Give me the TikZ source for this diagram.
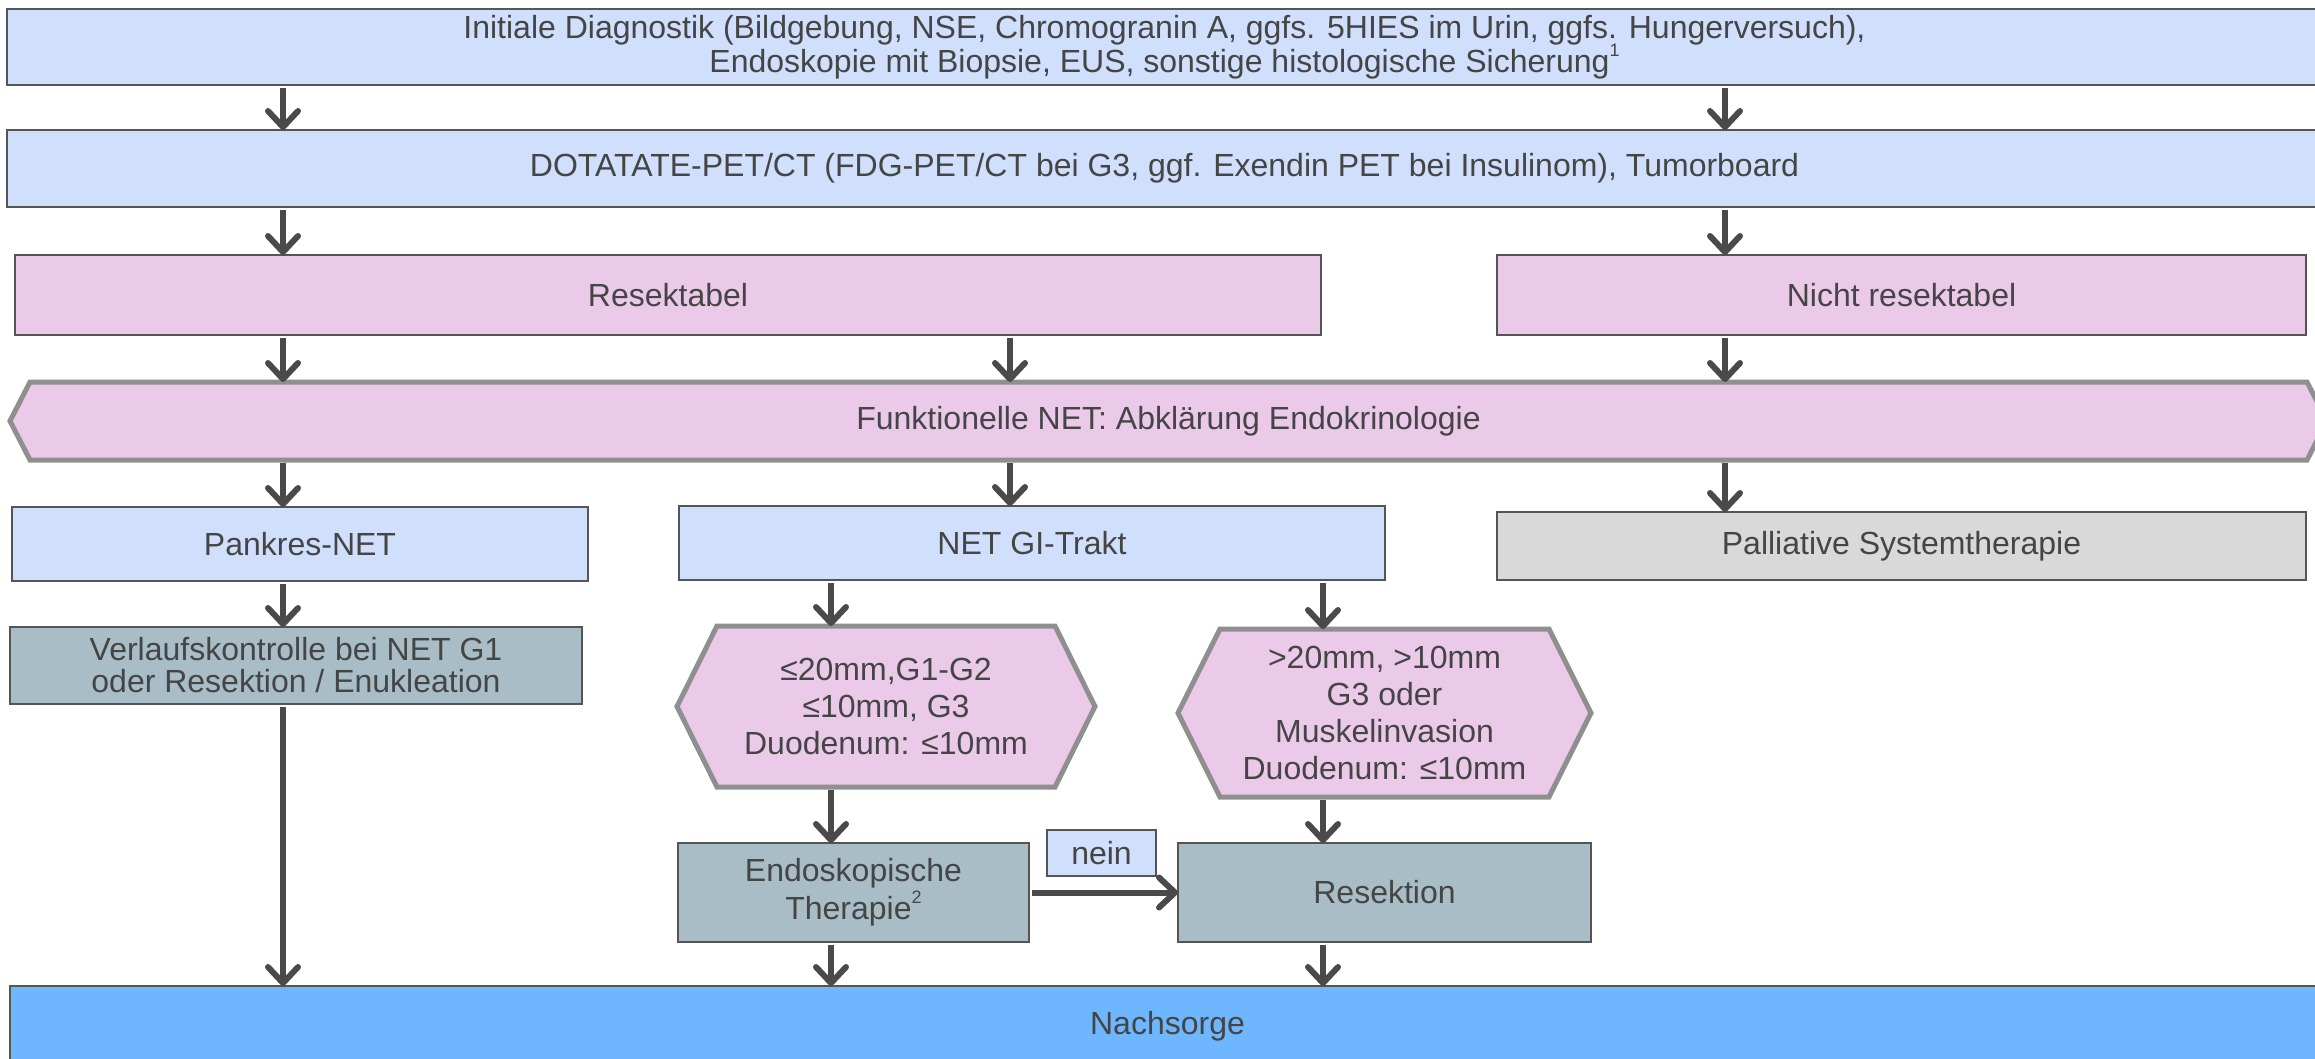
\documentclass[tikz,border=0pt]{standalone}
\usepackage{fontspec}
\setmainfont{Liberation Sans}
\usetikzlibrary{arrows.meta,backgrounds}
\definecolor{fillblue}{HTML}{CFDFFC}
\definecolor{fillpink}{HTML}{EACAE8}
\definecolor{fillteal}{HTML}{A9BDC6}
\definecolor{fillgrey}{HTML}{D9D9D9}
\definecolor{fillnach}{HTML}{6EB6FE}
\definecolor{edgedark}{HTML}{555555}
\definecolor{edgehex}{HTML}{8F8F8F}
\definecolor{txt}{HTML}{454545}
\definecolor{arrowc}{HTML}{4A4A4A}
\newcommand{\fnmark}[1]{\raisebox{0.5em}{\fontsize{18}{18}\selectfont #1}}
\begin{document}
\begin{tikzpicture}[x=1pt,y=-1pt,
  every node/.style={font=\fontsize{32}{37}\selectfont, text=txt, align=center, inner sep=0pt, outer sep=0pt},
  rbox/.style={rectangle, draw=edgedark, line width=2pt},
  hexnode/.style={rectangle},
  hexshape/.style={fill=fillpink, draw=edgehex, line width=5pt, line join=miter},
  flow/.style={draw=arrowc, line width=6pt, shorten <=3pt,
    -{Straight Barb[length=16pt,width=30pt,round]}},
]
\useasboundingbox (0,0) rectangle (2315,1058);

% column positions of the vertical connectors
\coordinate (c1) at (283,0);
\coordinate (c2) at (1010,0);
\coordinate (c3) at (1725,0);
\coordinate (c4) at (831,0);
\coordinate (c5) at (1323,0);

% rows of boxes
\node[rbox, fill=fillblue, minimum width=2315, minimum height=76] (init) at (1164.5,47)
  {Initiale Diagnostik (Bildgebung, NSE, Chromogranin A, ggfs. 5HIES im Urin, ggfs. Hungerversuch),\\[-3pt]
   Endoskopie mit Biopsie, EUS, sonstige histologische Sicherung\fnmark{1}};
\node[rbox, fill=fillblue, minimum width=2315, minimum height=77] (dota) at (1164.5,168.5)
  {DOTATATE-PET/CT (FDG-PET/CT bei G3, ggf. Exendin PET bei Insulinom), Tumorboard};

\node[rbox, fill=fillpink, minimum width=1306, minimum height=80] (resek) at (668,295) {Resektabel};
\node[rbox, fill=fillpink, minimum width=809, minimum height=80] (nicht) at (1901.5,295) {Nicht resektabel};

\node[hexnode, minimum width=2317, minimum height=78] (funk) at (1168.5,421)
  {Funktionelle NET: Abklärung Endokrinologie};

\node[rbox, fill=fillblue, minimum width=576, minimum height=74] (pank) at (300,544) {Pankres-NET};
\node[rbox, fill=fillblue, minimum width=706, minimum height=74] (netgi) at (1032,543) {NET GI-Trakt};
\node[rbox, fill=fillgrey, minimum width=809, minimum height=68] (pall) at (1901.5,546) {Palliative Systemtherapie};

\node[rbox, fill=fillteal, minimum width=572, minimum height=77] (verl) at (296,665.5)
  {Verlaufskontrolle bei NET G1\\[-5pt] oder Resektion / Enukleation};

\node[hexnode, minimum width=418, minimum height=161] (hexA) at (886,706.5)
  {≤20mm,G1-G2\\ ≤10mm, G3\\ Duodenum: ≤10mm};
\node[hexnode, minimum width=413, minimum height=168] (hexB) at (1384.5,713)
  {>20mm, >10mm\\ G3 oder\\ Muskelinvasion\\ Duodenum: ≤10mm};

\node[rbox, fill=fillteal, minimum width=351, minimum height=99] (endo) at (853.5,892.5)
  {Endoskopische\\[1pt] Therapie\fnmark{2}};
\node[rbox, fill=fillteal, minimum width=413, minimum height=99] (resk) at (1384.5,892.5) {Resektion};
\node[rbox, fill=fillblue, minimum width=109, minimum height=46] (nein) at (1101.5,853) {nein};

\node[rbox, fill=fillnach, minimum width=2315, minimum height=80] (nach) at (1167.5,1026) {Nachsorge};

% hexagonal outlines behind their labels
\begin{scope}[on background layer]
  \draw[hexshape] (funk.west) -- ([xshift=20pt]funk.north west) -- ([xshift=-20pt]funk.north east)
    -- (funk.east) -- ([xshift=-20pt]funk.south east) -- ([xshift=20pt]funk.south west) -- cycle;
  \draw[hexshape] (hexA.west) -- ([xshift=40pt]hexA.north west) -- ([xshift=-40pt]hexA.north east)
    -- (hexA.east) -- ([xshift=-40pt]hexA.south east) -- ([xshift=40pt]hexA.south west) -- cycle;
  \draw[hexshape] (hexB.west) -- ([xshift=42pt]hexB.north west) -- ([xshift=-42pt]hexB.north east)
    -- (hexB.east) -- ([xshift=-42pt]hexB.south east) -- ([xshift=42pt]hexB.south west) -- cycle;
\end{scope}

% connectors
\draw[flow] (init.south -| c1) -- (dota.north -| c1);
\draw[flow] (init.south -| c3) -- (dota.north -| c3);
\draw[flow] (dota.south -| c1) -- (resek.north -| c1);
\draw[flow] (dota.south -| c3) -- (nicht.north -| c3);
\draw[flow] (resek.south -| c1) -- (funk.north -| c1);
\draw[flow] (resek.south -| c2) -- (funk.north -| c2);
\draw[flow] (nicht.south -| c3) -- (funk.north -| c3);
\draw[flow] (funk.south -| c1) -- (pank.north -| c1);
\draw[flow] (funk.south -| c2) -- (netgi.north -| c2);
\draw[flow] (funk.south -| c3) -- (pall.north -| c3);
\draw[flow] (pank.south -| c1) -- (verl.north -| c1);
\draw[flow] (netgi.south -| c4) -- (hexA.north -| c4);
\draw[flow] (netgi.south -| c5) -- (hexB.north -| c5);
\draw[flow] (hexA.south -| c4) -- (endo.north -| c4);
\draw[flow] (hexB.south -| c5) -- (resk.north -| c5);
\draw[flow] (verl.south -| c1) -- (nach.north -| c1);
\draw[flow] (endo.south -| c4) -- (nach.north -| c4);
\draw[flow] (resk.south -| c5) -- (nach.north -| c5);
\draw[flow] (endo.east) -- (resk.west);
\end{tikzpicture}
\end{document}
